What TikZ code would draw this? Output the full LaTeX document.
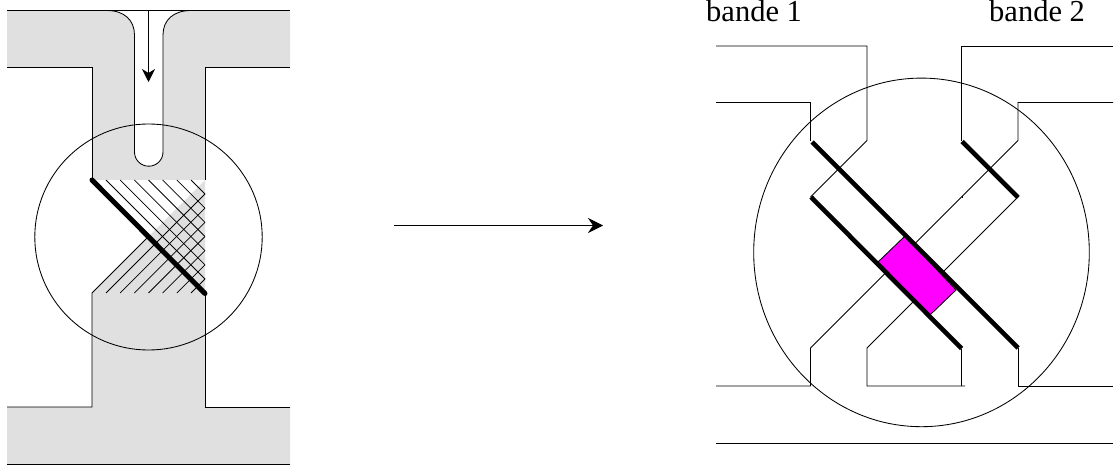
\documentclass[tikz,border=0pt]{standalone}
\usepackage{fontspec}
\setmainfont{Liberation Serif}
\usetikzlibrary{arrows.meta}
\definecolor{bandgray}{HTML}{E0E0E0}
\definecolor{puremagenta}{RGB}{255,0,255}
\tikzset{
  thin line/.style={draw=black,line width=0.85pt,line join=miter},
  thick left/.style={draw=black,line width=5pt,line cap=round},
  thick right/.style={draw=black,line width=4.6pt,line cap=butt},
  hatch/.style={draw=black,line width=0.75pt},
  label text/.style={inner sep=0pt,anchor=base west,font=\fontsize{30.5pt}{32pt}\selectfont},
  big tip/.style={-{Stealth[length=15pt,width=15pt,inset=5pt]}},
  small tip/.style={-{Stealth[length=13pt,width=13pt,inset=4pt]}}
}
\begin{document}
\begin{tikzpicture}[x=1pt,y=-1pt]
\useasboundingbox (0,0) rectangle (1114,465);
% ---- left figure
\fill[bandgray] (7,10.5) -- (290,10.5) -- (290,67) -- (205,67) -- (205,180) -- (92,180) -- (92,67) -- (7,67) -- cycle;
\fill[bandgray] (7,407) -- (92,407) -- (92,293) -- (205,180) -- (205,407) -- (290,407) -- (290,464) -- (7,464) -- cycle;
% channel
\fill[white] (107,10.5) .. controls (124,10.5) and (134.5,20) .. (134.5,35) -- (134.5,152)
  .. controls (134.5,160) and (140.9,166.2) .. (148.75,166.2)
  .. controls (156.6,166.2) and (163,160) .. (163,152) -- (163,35)
  .. controls (163,20) and (173.5,10.5) .. (191,10.5) -- cycle;
\draw[thin line] (107,10.5) .. controls (124,10.5) and (134.5,20) .. (134.5,35) -- (134.5,152)
  .. controls (134.5,160) and (140.9,166.2) .. (148.75,166.2)
  .. controls (156.6,166.2) and (163,160) .. (163,152) -- (163,35)
  .. controls (163,20) and (173.5,10.5) .. (191,10.5);
% outlines
\draw[thin line] (7,10.5) -- (290,10.5);
\draw[thin line] (7,67) -- (92,67) -- (92,180);
\draw[thin line] (290,67) -- (205,67) -- (205,180);
\draw[thin line] (7,407) -- (92,407) -- (92,293) -- (148.5,236.5);
\draw[thin line] (290,407) -- (205,407) -- (205,293);
\draw[thin line] (7,464) -- (290,464);
% hatching
\foreach \k in {0,...,6} {
  \pgfmathsetmacro{\xs}{106+14.17*\k}
  \draw[hatch] (\xs,180) -- (205,{180+205-\xs});
  \draw[hatch] (\xs,293) -- (205,{293-205+\xs});
}
\draw[thick left] (92,180) -- (205,293.5);
\draw[thin line] (148.5,237) ellipse [x radius=113.7,y radius=113];
\coordinate (flowstart) at (148.5,10.5);
\coordinate (flowend) at (148.5,82);
\draw[thin line,small tip] (flowstart) -- (flowend);
% ---- main arrow
\coordinate (mainstart) at (394,225.5);
\coordinate (mainend) at (603,225.5);
\draw[thin line,big tip] (mainstart) -- (mainend);
% ---- right figure
\node[label text] (b1) at (706,21.3) {bande 1};
\node[label text] (b2) at (989,21.3) {bande 2};
\draw[thin line] (716,46) -- (867,46) -- (867,140.5) -- (810.5,197);
\draw[thin line] (716,102.5) -- (810.5,102.5) -- (810.5,141);
\draw[thin line] (1113,46) -- (961.5,46) -- (961.5,141);
\draw[thin line] (1113,102.5) -- (1018,102.5) -- (1018,140.5) -- (810.5,348) -- (810.5,386) -- (716,386);
\draw[thin line] (1018,197) -- (867,348) -- (867,386) -- (965,386);
\draw[thin line] (961.5,349) -- (961.5,386);
\draw[thin line] (1018,348) -- (1018,386) -- (1113,386);
\draw[thin line] (716,443) -- (1113,443);
\draw[thin line] (962,196) -- (962,198.5);
\draw[thin line,fill=puremagenta] (905,236) -- (878,262) -- (930,315) -- (956,290) -- cycle;
\draw[thick right] (812,142) -- (1018,348);
\draw[thick right] (811,197) -- (961.5,348.5);
\draw[thick right] (962,141.5) -- (1018,197.5);
\draw[thin line] (921.5,252.4) ellipse [x radius=167.8,y radius=174.3];
\end{tikzpicture}
\end{document}
